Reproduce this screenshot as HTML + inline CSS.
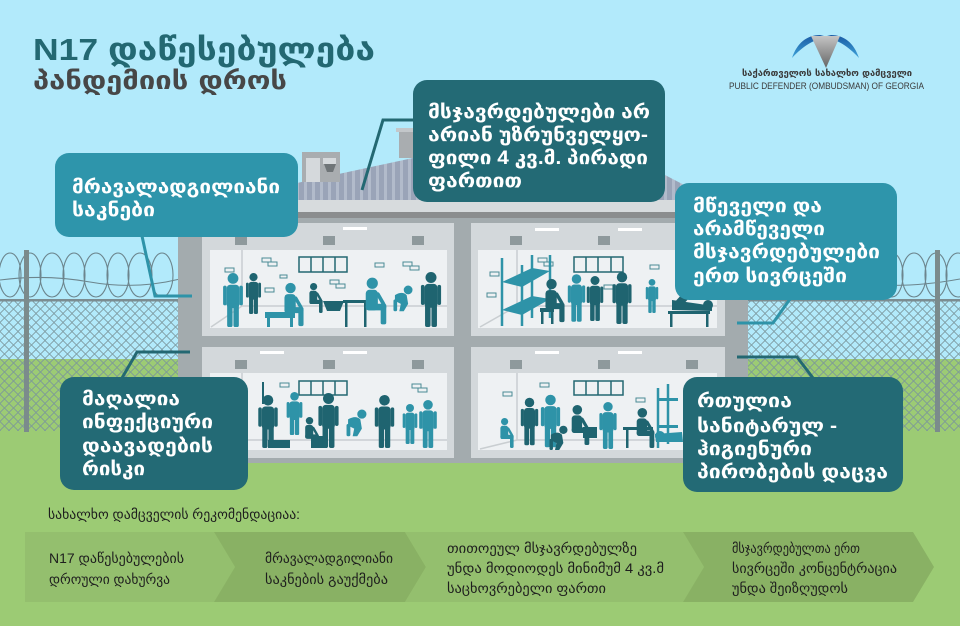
<!DOCTYPE html>
<html><head><meta charset="utf-8">
<style>
html,body{margin:0;padding:0;width:960px;height:626px;overflow:hidden;background:#b2eafb}
svg{display:block}
</style></head><body>
<svg width="960" height="626" viewBox="0 0 960 626" xmlns="http://www.w3.org/2000/svg">
<defs>
<pattern id="mesh" patternUnits="userSpaceOnUse" width="9" height="9" x="0" y="300">
<path d="M0 4.5 L4.5 0 L9 4.5 L4.5 9 Z" fill="none" stroke="#7a959b" stroke-width="0.8"/>
</pattern>
<pattern id="corr" patternUnits="userSpaceOnUse" width="8" height="10">
<rect width="8" height="10" fill="#9aa4b8"/><rect width="3" height="10" fill="#b2bbcb"/>
</pattern>
<symbol id="st" viewBox="0 0 24 60">
<circle cx="12" cy="6" r="6"/>
<rect x="5" y="13" width="14" height="26" rx="4"/>
<rect x="1" y="14" width="4" height="22" rx="2"/>
<rect x="19" y="14" width="4" height="22" rx="2"/>
<rect x="5.5" y="34" width="6" height="26" rx="2"/>
<rect x="12.5" y="34" width="6" height="26" rx="2"/>
</symbol>
<symbol id="si" viewBox="0 0 30 50">
<circle cx="11" cy="6" r="6"/>
<rect x="4" y="13" width="13" height="22" rx="4"/>
<rect x="4" y="28" width="22" height="7" rx="3"/>
<rect x="20" y="28" width="6" height="22" rx="2"/>
<rect x="14" y="16" width="4" height="16" rx="2" transform="rotate(-30 16 16)"/>
</symbol>
<symbol id="cr" viewBox="0 0 30 36">
<circle cx="22" cy="7" r="6"/>
<path d="M4 14 Q14 8 20 14 L22 26 L16 36 L10 36 L12 26 L4 22 Z"/>
<rect x="2" y="20" width="5" height="16" rx="2"/>
</symbol>
<linearGradient id="wing" x1="0" y1="0" x2="0" y2="1"><stop offset="0" stop-color="#1a5aa3"/><stop offset="1" stop-color="#3ea3d9"/></linearGradient>
<linearGradient id="tri" x1="0" y1="0" x2="0" y2="1"><stop offset="0" stop-color="#c4c4c4"/><stop offset="1" stop-color="#666666"/></linearGradient>
</defs>

<!-- background -->
<rect width="960" height="359" fill="#b2eafb"/>
<rect y="359" width="960" height="267" fill="#9ccb74"/>

<!-- fences -->
<rect x="0" y="300" width="180" height="131" fill="url(#mesh)"/>
<rect x="748" y="300" width="212" height="131" fill="url(#mesh)"/>
<g fill="none" stroke="#6c858d" stroke-width="1.1">
<ellipse cx="10" cy="275" rx="11" ry="22"/><ellipse cx="30" cy="275" rx="11" ry="22"/>
<ellipse cx="52" cy="275" rx="12" ry="22"/><ellipse cx="74" cy="275" rx="11" ry="22"/>
<ellipse cx="96" cy="275" rx="12" ry="22"/><ellipse cx="118" cy="275" rx="11" ry="22"/>
<ellipse cx="140" cy="275" rx="12" ry="22"/><ellipse cx="162" cy="275" rx="11" ry="22"/>
<path d="M0 280 Q45 274 90 282 T180 279"/>
<ellipse cx="760" cy="275" rx="11" ry="22"/><ellipse cx="782" cy="275" rx="12" ry="22"/>
<ellipse cx="804" cy="275" rx="11" ry="22"/><ellipse cx="826" cy="275" rx="12" ry="22"/>
<ellipse cx="848" cy="275" rx="11" ry="22"/><ellipse cx="870" cy="275" rx="12" ry="22"/>
<ellipse cx="892" cy="275" rx="11" ry="22"/><ellipse cx="914" cy="275" rx="12" ry="22"/>
<ellipse cx="936" cy="275" rx="11" ry="22"/><ellipse cx="958" cy="275" rx="12" ry="22"/>
<path d="M748 280 Q800 274 850 282 T960 279"/>
</g>
<rect x="0" y="299" width="180" height="2.5" fill="#7b8d92"/>
<rect x="748" y="299" width="212" height="2.5" fill="#7b8d92"/>
<rect x="24" y="250" width="5" height="182" fill="#7b8b8c"/>
<rect x="935" y="250" width="5" height="182" fill="#7b8b8c"/>

<!-- roof -->
<polygon points="297,200 297,183 413,158 665,175 690,188 705,200" fill="url(#corr)"/>
<rect x="302" y="152" width="38" height="30" fill="#a9adb0"/>
<rect x="306" y="158" width="14" height="24" fill="#d5d9dc"/>
<rect x="323" y="158" width="13" height="6" fill="#d5d9dc"/>
<polygon points="324,164 336,164 333,172 327,172" fill="#6f7578"/>
<rect x="399" y="130" width="17" height="28" fill="#a9adb0"/>
<rect x="396" y="128" width="23" height="4" fill="#c3c7ca"/>

<!-- building -->
<rect x="178" y="200" width="570" height="12" fill="#d7dbdd"/>
<rect x="178" y="212" width="570" height="6" fill="#8b8d8e"/>
<rect x="178" y="218" width="570" height="245" fill="#a3abae"/>
<g fill="#d3d8db">
<rect x="202" y="223" width="252" height="113"/>
<rect x="471" y="223" width="254" height="113"/>
<rect x="202" y="347" width="252" height="111"/>
<rect x="471" y="347" width="254" height="111"/>
</g>
<g fill="#eef1f3">
<rect x="210" y="250" width="237" height="78"/>
<rect x="478" y="250" width="239" height="78"/>
<rect x="210" y="373" width="237" height="77"/>
<rect x="478" y="373" width="239" height="77"/>
</g>
<!-- room lines -->
<g stroke="#c9ced1" stroke-width="1.5" fill="none">
<path d="M242 250 V306 H447 M242 306 L211 327"/>
<path d="M517 250 V306 H717 M517 306 L480 327"/>
<path d="M242 373 V440 H447 M242 440 L211 449"/>
<path d="M517 373 V440 H717 M517 440 L480 449"/>
</g>
<!-- lights -->
<g fill="#ffffff">
<rect x="343" y="227" width="24" height="3"/>
<rect x="535" y="228" width="24" height="3"/><rect x="618" y="228" width="24" height="3"/>
<rect x="260" y="351" width="24" height="3"/><rect x="343" y="351" width="24" height="3"/>
<rect x="535" y="351" width="24" height="3"/><rect x="618" y="351" width="24" height="3"/>
</g>
<!-- vents -->
<g fill="#8e999c">
<rect x="235" y="236" width="12" height="9"/><rect x="323" y="236" width="12" height="9"/><rect x="412" y="236" width="12" height="9"/>
<rect x="510" y="236" width="12" height="9"/><rect x="598" y="236" width="12" height="9"/><rect x="686" y="236" width="12" height="9"/>
<rect x="235" y="360" width="12" height="9"/><rect x="323" y="360" width="12" height="9"/><rect x="412" y="360" width="12" height="9"/>
<rect x="510" y="360" width="12" height="9"/><rect x="598" y="360" width="12" height="9"/><rect x="686" y="360" width="12" height="9"/>
</g>
<!-- windows -->
<g fill="none" stroke="#236872" stroke-width="1.5">
<rect x="299" y="257" width="48" height="15"/><path d="M311 257V272M323 257V272M335 257V272"/>
<rect x="574" y="257" width="49" height="15"/><path d="M586 257V272M598 257V272M611 257V272"/>
<rect x="299" y="381" width="48" height="14"/><path d="M311 381V395M323 381V395M335 381V395"/>
<rect x="574" y="381" width="49" height="14"/><path d="M586 381V395M598 381V395M611 381V395"/>
</g>
<!-- bricks -->
<g fill="none" stroke="#4a8a95" stroke-width="1">
<rect x="262" y="258" width="9" height="4"/><rect x="268" y="262" width="9" height="4"/>
<rect x="280" y="275" width="7" height="3"/>
<rect x="265" y="288" width="9" height="4"/>
<rect x="330" y="280" width="9" height="4"/><rect x="336" y="284" width="9" height="4"/>
<rect x="375" y="263" width="9" height="4"/>
<rect x="403" y="262" width="9" height="4"/><rect x="410" y="266" width="9" height="4"/>
<rect x="225" y="268" width="9" height="4"/>
<rect x="538" y="258" width="9" height="4"/><rect x="544" y="262" width="9" height="4"/>
<rect x="490" y="272" width="9" height="4"/><rect x="487" y="293" width="9" height="4"/>
<rect x="650" y="265" width="9" height="4"/>
<rect x="604" y="285" width="9" height="4"/>
<rect x="540" y="383" width="9" height="4"/>
<rect x="503" y="392" width="9" height="4"/>
<rect x="636" y="398" width="9" height="4"/>
<rect x="280" y="383" width="9" height="4"/>
<rect x="412" y="384" width="9" height="4"/><rect x="418" y="388" width="9" height="4"/>
</g>

<!-- top-left room people -->
<use href="#st" x="220" y="273" width="26" height="54" fill="#2e93a8"/>
<use href="#st" x="245" y="273" width="17" height="41" fill="#1f6470"/>
<rect x="265" y="312" width="30" height="6" fill="#2e93a8"/><rect x="267" y="318" width="3" height="9" fill="#2e93a8"/><rect x="290" y="318" width="3" height="9" fill="#2e93a8"/>
<use href="#si" x="281" y="282" width="26" height="45" fill="#2e93a8"/>
<use href="#si" x="306" y="283" width="20" height="30" fill="#1f6470"/>
<path d="M323 301 H344 L340 311 H327 Z" fill="#1f6470"/>
<rect x="343" y="300" width="26" height="3" fill="#1f6470"/><rect x="345" y="303" width="2.5" height="24" fill="#1f6470"/><rect x="364" y="303" width="2.5" height="24" fill="#1f6470"/>
<use href="#si" x="362" y="275" width="28" height="52" fill="#2e93a8"/>
<use href="#cr" x="392" y="283" width="22" height="30" fill="#2e93a8"/>
<use href="#st" x="420" y="272" width="22" height="55" fill="#1f6470"/>

<!-- top-right room -->
<g stroke="#2e93a8" stroke-width="2.5">
<path d="M502 258 V326 M522 265 V326 M532 255 V318 M550 255 V318"/>
</g>
<polygon points="502,282 522,287 550,271 532,268" fill="#2e93a8"/>
<polygon points="502,310 522,315 550,299 532,296" fill="#2e93a8"/>
<rect x="540" y="308" width="14" height="4" fill="#1f6470"/><rect x="541" y="312" width="2.5" height="12" fill="#1f6470"/><rect x="551" y="312" width="2.5" height="12" fill="#1f6470"/>
<use href="#si" x="542" y="278" width="26" height="45" fill="#1f6470"/>
<use href="#st" x="567" y="272" width="19" height="52" fill="#2e93a8"/>
<use href="#st" x="586" y="273" width="18" height="51" fill="#1f6470"/>
<use href="#st" x="610" y="272" width="24" height="52" fill="#1f6470"/>
<use href="#st" x="642" y="279" width="20" height="34" fill="#2e93a8"/>
<rect x="668" y="311" width="42" height="3" fill="#1f6470"/><rect x="670" y="314" width="2.5" height="13" fill="#1f6470"/><rect x="706" y="314" width="2.5" height="13" fill="#1f6470"/>
<path d="M672 300 L700 304 L712 306 L712 311 L672 310 Z" fill="#1f6470"/>
<circle cx="708" cy="305" r="5" fill="#1f6470"/>
<path d="M672 305 L684 292 L690 297 L680 308 Z" fill="#1f6470"/>

<!-- bottom-left room -->
<rect x="262" y="382" width="2" height="22" fill="#1f6470"/>
<rect x="268" y="440" width="22" height="8" fill="#1f6470"/>
<use href="#st" x="253" y="395" width="30" height="53" fill="#1f6470"/>
<use href="#st" x="285" y="392" width="19" height="43" fill="#2e93a8"/>
<rect x="311" y="436" width="16" height="12" fill="#1f6470"/>
<use href="#si" x="300" y="417" width="24" height="31" fill="#1f6470"/>
<use href="#st" x="317" y="393" width="23" height="55" fill="#1f6470"/>
<use href="#cr" x="345" y="405" width="23" height="35" fill="#2e93a8"/>
<use href="#st" x="372" y="395" width="25" height="53" fill="#1f6470"/>
<use href="#st" x="402" y="400" width="16" height="48" fill="#2e93a8"/>
<use href="#st" x="418" y="400" width="20" height="48" fill="#2e93a8"/>

<!-- bottom-right room -->
<use href="#si" x="492" y="418" width="30" height="30" fill="#2e93a8"/>
<use href="#st" x="520" y="395" width="19" height="53" fill="#1f6470"/>
<use href="#st" x="540" y="394" width="21" height="54" fill="#2e93a8"/>
<use href="#cr" x="545" y="425" width="27" height="25" fill="#1f6470"/>
<rect x="583" y="427" width="14" height="11" fill="#1f6470"/>
<use href="#si" x="568" y="405" width="25" height="40" fill="#1f6470"/>
<use href="#st" x="598" y="402" width="20" height="47" fill="#2e93a8"/>
<rect x="623" y="427" width="30" height="3" fill="#1f6470"/><rect x="626" y="430" width="2.5" height="18" fill="#1f6470"/>
<use href="#si" x="633" y="408" width="25" height="40" fill="#1f6470"/>
<g stroke="#2e93a8" stroke-width="2.5"><path d="M658 388 V448 M668 384 V444"/></g>
<rect x="658" y="398" width="20" height="3" fill="#2e93a8"/><rect x="658" y="425" width="20" height="3" fill="#2e93a8"/>
<path d="M655 434 L682 432 L683 442 L656 442 Z" fill="#2e93a8"/><circle cx="660" cy="436" r="5" fill="#2e93a8"/>

<!-- connectors -->
<g fill="none" stroke-width="3" stroke-linejoin="miter">
<polyline points="142,236 155,296 192,296" stroke="#2e93a8"/>
<polyline points="414,120 383,120 362,190" stroke="#236872"/>
<polyline points="790,299 773,323 737,323" stroke="#2e93a8"/>
<polyline points="122,378 137,352 190,352" stroke="#236872"/>
<polyline points="813,378 797,357 737,357" stroke="#236872"/>
</g>

<!-- callouts -->
<rect x="55" y="153" width="243" height="84" rx="14" fill="#2e95ab"/>
<rect x="413" y="80" width="252" height="122" rx="14" fill="#236a75"/>
<rect x="675" y="183" width="222" height="117" rx="14" fill="#2e95ab"/>
<rect x="60" y="377" width="188" height="113" rx="14" fill="#236a75"/>
<rect x="683" y="377" width="220" height="115" rx="14" fill="#236a75"/>

<g font-family="'Liberation Sans','DejaVu Sans',sans-serif" font-weight="bold" font-size="19" fill="#ffffff">
<text x="72" y="193" textLength="208" lengthAdjust="spacingAndGlyphs">მრავალადგილიანი</text>
<text x="72" y="216" textLength="83" lengthAdjust="spacingAndGlyphs">საკნები</text>

<text x="428" y="118" textLength="222" lengthAdjust="spacingAndGlyphs">მსჯავრდებულები არ</text>
<text x="428" y="141" textLength="220" lengthAdjust="spacingAndGlyphs">არიან უზრუნველყო-</text>
<text x="428" y="164" textLength="220" lengthAdjust="spacingAndGlyphs">ფილი 4 კვ.მ. პირადი</text>
<text x="428" y="187" textLength="94" lengthAdjust="spacingAndGlyphs">ფართით</text>

<text x="693" y="212" textLength="129" lengthAdjust="spacingAndGlyphs">მწეველი და</text>
<text x="693" y="235" textLength="132" lengthAdjust="spacingAndGlyphs">არამწეველი</text>
<text x="693" y="258" textLength="187" lengthAdjust="spacingAndGlyphs">მსჯავრდებულები</text>
<text x="693" y="282" textLength="154" lengthAdjust="spacingAndGlyphs">ერთ სივრცეში</text>

<text x="82" y="405" textLength="98" lengthAdjust="spacingAndGlyphs">მაღალია</text>
<text x="82" y="428" textLength="131" lengthAdjust="spacingAndGlyphs">ინფექციური</text>
<text x="82" y="452" textLength="131" lengthAdjust="spacingAndGlyphs">დაავადების</text>
<text x="82" y="475" textLength="63" lengthAdjust="spacingAndGlyphs">რისკი</text>

<text x="697" y="407" textLength="95" lengthAdjust="spacingAndGlyphs">რთულია</text>
<text x="697" y="432" textLength="140" lengthAdjust="spacingAndGlyphs">სანიტარულ -</text>
<text x="697" y="455" textLength="115" lengthAdjust="spacingAndGlyphs">ჰიგიენური</text>
<text x="697" y="478" textLength="191" lengthAdjust="spacingAndGlyphs">პირობების დაცვა</text>
</g>

<!-- title -->
<text x="33" y="60" font-family="'Liberation Sans','DejaVu Sans',sans-serif" font-weight="bold" font-size="31" fill="#236872" textLength="342" lengthAdjust="spacingAndGlyphs">N17 დაწესებულება</text>
<text x="33" y="89" font-family="'DejaVu Sans',sans-serif" font-weight="bold" font-size="25" fill="#474747" textLength="254" lengthAdjust="spacingAndGlyphs">პანდემიის დროს</text>

<!-- logo -->
<path d="M792 58 C797 43 807 35 820 35 L828 37 C814 39 803 46 792 58 Z" fill="url(#wing)"/>
<path d="M859 58 C854 43 844 35 831 35 L823 37 C837 39 848 46 859 58 Z" fill="url(#wing)"/>
<path d="M811 36 L840 36 L826 68 Z" fill="url(#tri)"/>
<text x="742" y="76" font-family="'DejaVu Sans',sans-serif" font-weight="bold" font-size="8.5" fill="#3a3a3a" textLength="170" lengthAdjust="spacingAndGlyphs">საქართველოს სახალხო დამცველი</text>
<text x="729" y="89" font-family="'Liberation Sans',sans-serif" font-size="9.5" fill="#3a3a3a" textLength="195" lengthAdjust="spacingAndGlyphs">PUBLIC DEFENDER (OMBUDSMAN) OF GEORGIA</text>

<!-- recommendations -->
<polygon points="25,532 214,532 235,567 214,602 25,602" fill="#94bf6e"/>
<polygon points="214,532 405,532 426,567 405,602 214,602 235,567" fill="#89b164"/>
<polygon points="405,532 683,532 704,567 683,602 405,602 426,567" fill="#94bf6e"/>
<polygon points="683,532 913,532 934,567 913,602 683,602 704,567" fill="#89b164"/>

<g font-family="'Liberation Sans','DejaVu Sans',sans-serif" font-size="14" fill="#1e1e1e">
<text x="48" y="519" textLength="252" lengthAdjust="spacingAndGlyphs">სახალხო დამცველის რეკომენდაციაა:</text>
<text x="49" y="563" textLength="135" lengthAdjust="spacingAndGlyphs">N17 დაწესებულების</text>
<text x="49" y="584" textLength="121" lengthAdjust="spacingAndGlyphs">დროული დახურვა</text>
<text x="265" y="563" textLength="128" lengthAdjust="spacingAndGlyphs">მრავალადგილიანი</text>
<text x="265" y="584" textLength="123" lengthAdjust="spacingAndGlyphs">საკნების გაუქმება</text>
<text x="447" y="553" textLength="190" lengthAdjust="spacingAndGlyphs">თითოეულ მსჯავრდებულზე</text>
<text x="447" y="573" textLength="217" lengthAdjust="spacingAndGlyphs">უნდა მოდიოდეს მინიმუმ 4 კვ.მ</text>
<text x="447" y="593" textLength="159" lengthAdjust="spacingAndGlyphs">საცხოვრებელი ფართი</text>
<text x="732" y="553" textLength="128" lengthAdjust="spacingAndGlyphs">მსჯავრდებულთა ერთ</text>
<text x="732" y="573" textLength="165" lengthAdjust="spacingAndGlyphs">სივრცეში კონცენტრაცია</text>
<text x="732" y="593" textLength="116" lengthAdjust="spacingAndGlyphs">უნდა შეიზღუდოს</text>
</g>
</svg>
</body></html>
